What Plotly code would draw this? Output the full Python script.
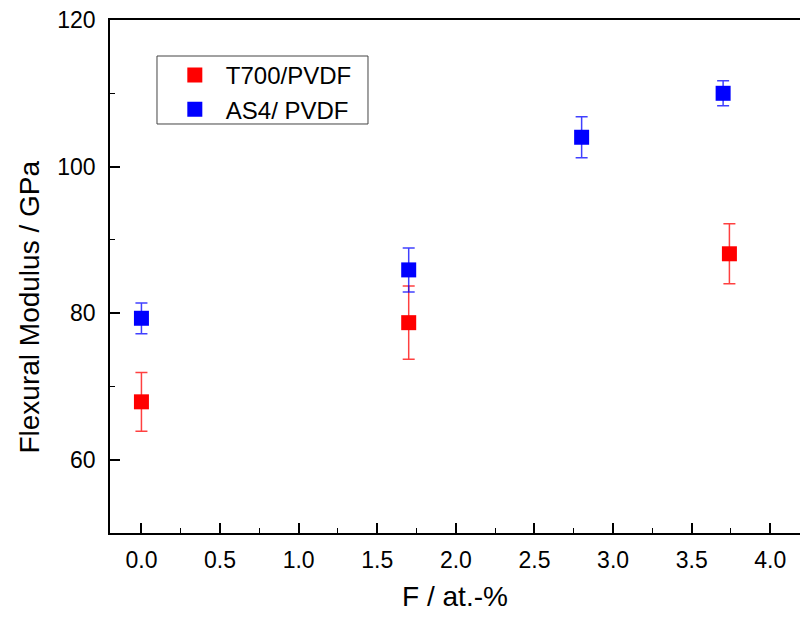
import plotly.graph_objects as go

# Data
t700_x = [0.0, 1.7, 3.74]
t700_y = [67.9, 78.7, 88.1]
t700_err = [4.0, 5.0, 4.1]

as4_x = [0.0, 1.7, 2.8, 3.7]
as4_y = [79.3, 85.9, 104.0, 110.0]
as4_err = [2.1, 3.0, 2.8, 1.7]

series_names = ["T700/PVDF", "AS4/ PVDF"]
x_title = "F / at.-%"
y_title = "Flexural Modulus / GPa"

FONT = "Liberation Sans, Arial, sans-serif"

fig = go.Figure()
fig.add_trace(go.Scatter(
    x=t700_x, y=t700_y, mode="markers", name=series_names[0],
    marker=dict(symbol="square", size=15, color="#ff0000", line=dict(width=0)),
    error_y=dict(type="data", array=t700_err, visible=True, color="rgba(255,0,0,0.75)",
                 thickness=1.5, width=6),
))
fig.add_trace(go.Scatter(
    x=as4_x, y=as4_y, mode="markers", name=series_names[1],
    marker=dict(symbol="square", size=15, color="#0000ff", line=dict(width=0)),
    error_y=dict(type="data", array=as4_err, visible=True, color="rgba(0,0,255,0.75)",
                 thickness=1.5, width=6),
))

# legend frame
fig.add_shape(type="rect", xref="paper", yref="paper",
              x0=0.0681, x1=0.3739, y0=0.7973, y1=0.9298,
              line=dict(color="#444", width=1), fillcolor="rgba(0,0,0,0)", layer="below")

# y-axis title as annotation (offset like the original)
fig.add_annotation(text=y_title, textangle=-90, xref="paper", yref="paper",
                   x=-0.117, y=0.44, xanchor="center", yanchor="middle", showarrow=False,
                   font=dict(size=28, family=FONT, color="black"))

fig.update_layout(
    width=800, height=617,
    margin=dict(l=110, r=0, t=20, b=84),
    paper_bgcolor="white", plot_bgcolor="white",
    font=dict(family=FONT, color="black"),
    showlegend=True,
    legend=dict(
        x=0.078, y=0.936, xanchor="left", yanchor="top",
        bgcolor="rgba(0,0,0,0)", borderwidth=0,
        font=dict(size=24, family=FONT, color="black"),
        itemwidth=52, tracegroupgap=0,
    ),
    xaxis=dict(
        range=[-0.2, 4.189], tickmode="array",
        tickvals=[0, 0.5, 1, 1.5, 2, 2.5, 3, 3.5, 4],
        ticktext=["0.0", "0.5", "1.0", "1.5", "2.0", "2.5", "3.0", "3.5", "4.0"],
        ticks="inside", ticklen=10, tickwidth=1.5, tickcolor="black",
        minor=dict(dtick=0.25, tick0=0, ticks="inside", ticklen=5, tickwidth=1, tickcolor="black"),
        showline=True, linecolor="black", linewidth=1.5, mirror=True,
        showgrid=False, zeroline=False,
        tickfont=dict(size=23, family=FONT),
        ticklabelstandoff=6,
        title=dict(text=x_title, font=dict(size=28, family=FONT), standoff=14),
    ),
    yaxis=dict(
        range=[50, 120], tickmode="array", tickvals=[60, 80, 100, 120],
        ticks="inside", ticklen=10, tickwidth=1.5, tickcolor="black",
        minor=dict(dtick=10, tick0=50, ticks="inside", ticklen=5, tickwidth=1, tickcolor="black"),
        showline=True, linecolor="black", linewidth=1.5, mirror=False,
        showgrid=False, zeroline=False,
        tickfont=dict(size=23, family=FONT),
        ticklabelstandoff=8,
    ),
)

fig.write_html("out.html")
